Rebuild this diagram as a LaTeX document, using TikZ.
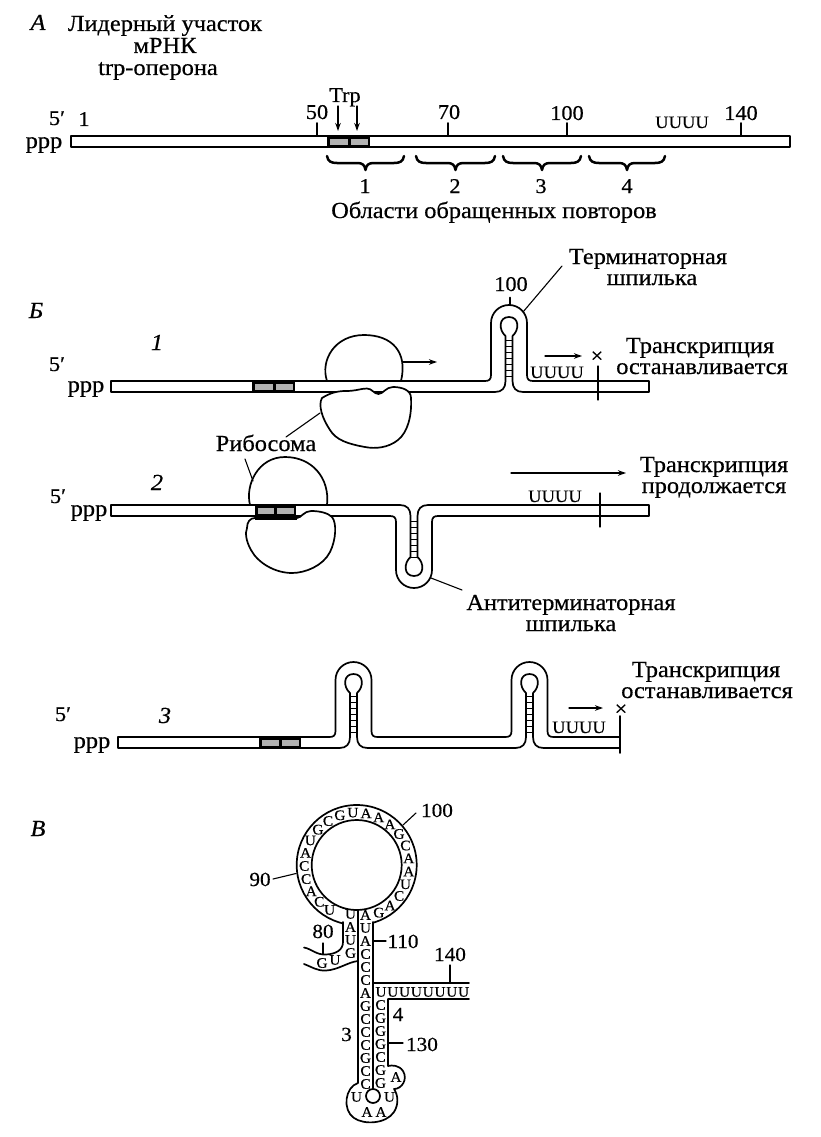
\documentclass[tikz,border=0pt]{standalone}
\usepackage{fontspec}
\setmainfont{Liberation Serif}[FakeStretch=1.06,FakeBold=0.5]
\usetikzlibrary{arrows.meta}
\tikzset{
 ln/.style={line width=1.7pt},
 thinln/.style={line width=1.1pt},
 rung/.style={line width=0.9pt},
 brc/.style={line width=2.5pt},
 arr/.style={line width=1.2pt,-{Stealth[length=8pt,width=5.5pt]}},
 txt/.style={inner sep=0pt,anchor=base,font=\fontsize{23}{23}\selectfont},
 numt/.style={inner sep=0pt,anchor=base,font=\fontsize{21}{21}\selectfont},
 ital/.style={inner sep=0pt,anchor=base,font=\fontsize{23}{23}\selectfont\itshape},
 uu/.style={inner sep=0pt,anchor=base,font=\fontsize{17.5}{17.5}\selectfont},
 nt/.style={inner sep=0pt,font=\fontsize{14.5}{14.5}\selectfont},
 vnum/.style={inner sep=0pt,anchor=base,font=\fontsize{20}{20}\selectfont},
 shade/.style={fill=black!30},
}
% hairpin: cx, y of bar edge, height, direction (1 up, -1 down); bar thickness 11
\newcommand{\hpin}[4]{%
\begin{scope}[shift={(#1,#2)},yscale=#4]
\fill[white] (-23.5,-1.5) rectangle (23.5,12.5);
\draw[ln] (-24,0) .. controls (-20,0) and (-18,-1.5) .. (-18,-6) -- (-18,{-#3+18}) .. controls (-18,{-#3+8}) and (-10,-#3) .. (0,-#3) .. controls (10,-#3) and (18,{-#3+8}) .. (18,{-#3+18}) -- (18,-6) .. controls (18,-1.5) and (20,0) .. (24,0);
\draw[ln] (-24,11) -- (-14,11) .. controls (-7,11) and (-3.5,7) .. (-3.5,0) -- (-3.5,{-#3+31}) .. controls (-10.5,{-#3+25}) and (-10.5,{-#3+12}) .. (0,{-#3+12}) .. controls (10.5,{-#3+12}) and (10.5,{-#3+25}) .. (3.5,{-#3+31}) -- (3.5,0) .. controls (3.5,7) and (7,11) .. (14,11) -- (24,11);
\foreach \k in {0,...,6} \draw[rung] (-3.5,{-5-6*\k}) -- (3.5,{-5-6*\k});
\end{scope}}
\newcommand{\curlyb}[2]{%
\draw[brc] (#1,156) .. controls ({#1+1},161.5) and ({#1+4},163) .. ({#1+10},163) -- ({(#1+#2)/2-8},163) .. controls ({(#1+#2)/2-3},163) and ({(#1+#2)/2-0.8},165) .. ({(#1+#2)/2},170) .. controls ({(#1+#2)/2+0.8},165) and ({(#1+#2)/2+3},163) .. ({(#1+#2)/2+8},163) -- ({#2-10},163) .. controls ({#2-4},163) and ({#2-1},161.5) .. (#2,156);}
\newcommand{\shbox}[5]{\fill (#1,#3) rectangle (#2,#4); \fill[shade] ({#1+2.5},{#3+2.5}) rectangle ({#5-1.5},{#4-2.5}); \fill[shade] ({#5+1.5},{#3+2.5}) rectangle ({#2-2.5},{#4-2.5});}
\begin{document}
\begin{tikzpicture}[x=1pt,y=-1pt,line join=round,line cap=round]
\useasboundingbox (0,0) rectangle (821,1137);
\fill[white] (0,0) rectangle (821,1137);
% ================= Panel A
\node[ital] (lA) at (38,30) {А};
\node[txt] (tA1) at (165,31) {Лидерный участок};
\node[txt] (tA2) at (165,53) {мРНК};
\node[txt] (tA3) at (158,75) {trp-оперона};
\draw[ln,fill=white] (71,136) rectangle (790,147);
\shbox{327}{370}{136}{147}{349}
\foreach \x in {317,448,567,741} \draw[ln] (\x,123) -- (\x,136);
\node[numt] (n50) at (317,119) {50};
\node[numt] (n70) at (449,119) {70};
\node[numt] (n100) at (567,120) {100};
\node[numt] (n140) at (741,120) {140};
\node[numt] (n5) at (57,125) {5′};
\node[numt] (n1) at (84,126) {1};
\node[uu] (uA) at (682,128) {UUUU};
\node[txt] (pA) at (44,148) {ppp};
\node[numt] (trp) at (345,102) {Trp};
\coordinate (trpa1) at (338,131);
\coordinate (trpa2) at (357,131);
\draw[arr] (338,106) -- (trpa1);
\draw[arr] (357,106) -- (trpa2);
\curlyb{327}{404}
\curlyb{416}{495}
\curlyb{503}{581}
\curlyb{589}{665}
\node[numt] (r1) at (365,193) {1};
\node[numt] (r2) at (455,193) {2};
\node[numt] (r3) at (541,193) {3};
\node[numt] (r4) at (627,193) {4};
\node[txt] (obl) at (494,218) {Области обращенных повторов};
% ================= Panel B
\node[ital] (lB) at (36,318) {Б};
% --- B1
\node[ital] (i1) at (157,350) {1};
\node[numt] (b1five) at (57,371) {5′};
\node[txt] (b1ppp) at (86,392) {ppp};
\draw[ln,fill=white] (111,381) rectangle (649,392);
\shbox{252}{295}{381}{392}{274}
\hpin{509}{381}{76}{1}
\draw[ln] (327,381) .. controls (320,360) and (335,335) .. (364,335) .. controls (392,335) and (408,352) .. (401,381);
\draw[ln,fill=white] (322,398) .. controls (330,393) and (337,391) .. (346,391) .. controls (356,391) and (361,388.5) .. (367,388.5) .. controls (372,388.5) and (374,394) .. (378.5,394) .. controls (383,394) and (386,387) .. (393,387) .. controls (402,387) and (411,390) .. (411,398) .. controls (412,415) and (408,432) .. (398,440) .. controls (388,448) and (375,449) .. (365,447) .. controls (348,444) and (336,440) .. (330,430) .. controls (322,418) and (318,405) .. (322,398) -- cycle;
\coordinate (rb1a) at (403,362);
\coordinate (rb1b) at (437,362);
\draw[arr] (rb1a) -- (rb1b);
\node[numt] (b1n100) at (511,291) {100};
\draw[ln] (510,297.5) -- (510,305);
\node[txt] (term1) at (648,264) {Терминаторная};
\node[txt] (term2) at (652,285) {шпилька};
\draw[thinln] (562,266) -- (523,312);
\node[uu] (b1u) at (557,378) {UUUU};
\draw[arr] (545,356) -- (582,356);
\node[uu,anchor=center,font=\fontsize{21}{21}\selectfont] (b1x) at (597,357) {×};
\draw[thinln] (598,366) -- (598,400);
\node[txt] (b1t1) at (700,353) {Транскрипция};
\node[txt] (b1t2) at (702,374) {останавливается};
\node[txt] (ribo) at (266,451) {Рибосома};
\draw[thinln] (286,437) -- (320,413);
\draw[thinln] (245,459) -- (253,481);
% --- B2
\node[ital] (i2) at (157,490) {2};
\node[numt] (b2five) at (58,503) {5′};
\node[txt] (b2ppp) at (89,516) {ppp};
\draw[ln,fill=white] (111,505) rectangle (649,516);
\shbox{255}{296}{505}{516}{275}
\hpin{414}{516}{72}{-1}
\draw[ln] (250,505) .. controls (245,485) and (258,457) .. (285,457) .. controls (312,457) and (330,478) .. (327,505);
\draw[ln,fill=white] (247,528) .. controls (247,522) and (250,518) .. (255,518) -- (297,518) .. controls (301,518) and (304,511) .. (311,511) .. controls (320,511) and (328,513) .. (332,517) .. controls (337,523) and (336,540) .. (330,552) .. controls (323,566) and (305,573) .. (292,573) .. controls (275,573) and (258,563) .. (251,550) .. controls (246,541) and (245,533) .. (247,528) -- cycle;
\fill (255,515) rectangle (297,520);
\draw[arr] (511,473) -- (626,473);
\node[txt] (b2t1) at (714,472) {Транскрипция};
\node[txt] (b2t2) at (714,493) {продолжается};
\node[uu] (b2u) at (555,502) {UUUU};
\draw[thinln] (600,493) -- (600,527);
\node[txt] (anti1) at (571,610) {Антитерминаторная};
\node[txt] (anti2) at (571,631) {шпилька};
\draw[thinln] (431,578) -- (462,590);
% --- B3
\node[numt] (b3five) at (63,721) {5′};
\node[ital] (i3) at (165,723) {3};
\node[txt] (b3ppp) at (92,748) {ppp};
\draw[ln,fill=white] (118,737) rectangle (620,748);
\draw[ln] (620,716) -- (620,753);
\shbox{259}{301}{737}{748}{280}
\hpin{353.5}{737}{75}{1}
\hpin{529.5}{737}{75}{1}
\node[uu] (b3u) at (579,733) {UUUU};
\draw[arr] (569,708) -- (603,708);
\node[uu,anchor=center,font=\fontsize{21}{21}\selectfont] (b3x) at (621,710) {×};
\node[txt] (b3t1) at (706,677) {Транскрипция};
\node[txt] (b3t2) at (707,698) {останавливается};
% ================= Panel V
\node[ital] (lV) at (38,836) {В};
\draw[ln] (356.7,865) circle[radius=60];
\fill[white] (344.3,914) rectangle (371.7,930);
\draw[ln] (356.7,865) circle[radius=45];
\draw[ln] (343,922) -- (343,942) .. controls (343,950) and (336,954) .. (326,954.5) .. controls (316,955) and (312,949) .. (304,947.5);
\draw[ln] (304,964) .. controls (312,967) and (317,971) .. (326,970.5) .. controls (338,970) and (348,962) .. (358,961);
\draw[ln] (358,910) -- (358,1083) .. controls (345,1087) and (342,1110) .. (354,1118) .. controls (364,1125) and (386,1124) .. (394,1112) .. controls (399,1104) and (398,1095) .. (394,1089) .. controls (402,1089) and (408,1079) .. (403,1071) .. controls (399,1065) and (392,1065) .. (388,1066) -- (388,999) -- (469,999);
\draw[ln] (373,922) -- (373,1089);
\draw[ln] (373,983) -- (469,983);
\draw[ln] (373,1096) circle[radius=7];
\foreach \L [count=\i from 0] in {U,C,A,C,C,A,U,G,C,G,U,A,A,A,G,C,A,A,U,C,A,G}
  \node[nt] (lp\i) at ({356.7+52.5*cos(239-14.48*\i)},{865-52.5*sin(239-14.48*\i)}) {\L};
\foreach \L/\yy [count=\i] in {U/914,A/927,U/940,G/953}
  \node[nt] (ca\i) at (350.5,\yy) {\L};
\foreach \L [count=\i from 0] in {A,U,A,C,C,C,A,G,C,C,C,G,C,C}
  \node[nt] (cb\i) at (365.5,{915+13*\i}) {\L};
\foreach \L [count=\i from 0] in {C,G,G,G,C,G,G}
  \node[nt] (cc\i) at (380.5,{1005+13*\i}) {\L};
\node[nt] (bulA) at (396,1077) {A};
\node[nt] (w1) at (335,960) {U};
\node[nt] (w2) at (322,963) {G};
\node[nt] (bl1) at (356.5,1097) {U};
\node[nt] (bl2) at (367,1112) {A};
\node[nt] (bl3) at (381,1112) {A};
\node[nt] (bl4) at (389.5,1097) {U};
\foreach \i in {0,...,7} \node[nt] (uh\i) at ({381+11.8*\i},992) {U};
\node[vnum] (v100) at (437,817) {100};
\draw[thinln] (416,813) -- (403,825);
\node[vnum] (v90) at (260,886) {90};
\draw[thinln] (273,879) -- (296,873.5);
\node[vnum] (v80) at (323,938) {80};
\draw[thinln] (323,943) -- (323,954);
\node[vnum] (v110) at (403,948) {110};
\draw[thinln] (373,941) -- (386,941);
\node[vnum] (v140) at (450,961) {140};
\draw[thinln] (450,965) -- (450,983);
\node[vnum] (v4) at (398,1021) {4};
\node[vnum] (v3) at (346.5,1041) {3};
\node[vnum] (v130) at (422,1051) {130};
\draw[thinln] (388,1043) -- (403,1043);
\end{tikzpicture}
\end{document}
